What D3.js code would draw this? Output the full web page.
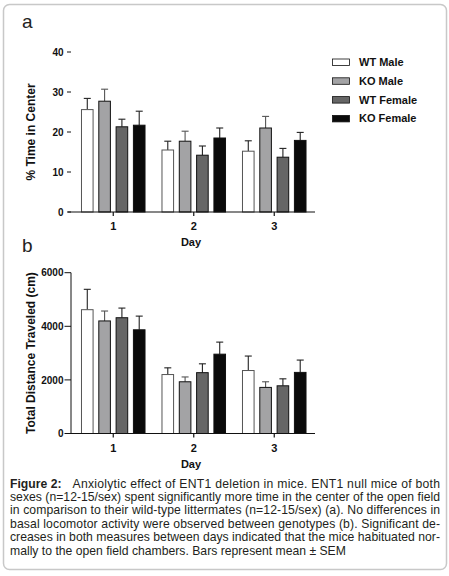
<!DOCTYPE html>
<html lang="en">
<head>
<meta charset="utf-8">
<title>Figure 2</title>
<script src="https://cdn.jsdelivr.net/npm/d3@7"></script>
<style>
  body { margin: 0; background: #fff; }
  svg { display: block; font-family: "Liberation Sans", Arial, sans-serif; }
</style>
</head>
<body>
<script>

// data
var days = ["1", "2", "3"];
var groups = ["WT Male", "KO Male", "WT Female", "KO Female"];
var groupColors = ["#ffffff", "#a3a3a5", "#666666", "#0a0a0a"];

// % time in center, mean and mean+SEM, one row per group (days 1..3)
var centerMean = [[25.6, 15.5, 15.2], [27.7, 17.7, 21.0], [21.3, 14.2, 13.7], [21.7, 18.5, 17.9]];
var centerTop  = [[28.4, 17.7, 17.8], [30.7, 20.2, 23.9], [23.2, 16.5, 15.9], [25.2, 21.0, 19.9]];
var centerTicks = [0, 10, 20, 30, 40];

// total distance traveled (cm)
var distMean = [[4620, 2200, 2350], [4200, 1930, 1720], [4320, 2270, 1780], [3870, 2960, 2280]];
var distTop  = [[5380, 2450, 2890], [4570, 2110, 1930], [4680, 2600, 2040], [4380, 3410, 2740]];
var distTicks = [0, 2000, 4000, 6000];

var captionLines = [
  "Anxiolytic effect of ENT1 deletion in mice. ENT1 null mice of both",
  "sexes (n=12-15/sex) spent significantly more time in the center of the open field",
  "in comparison to their wild-type littermates (n=12-15/sex) (a). No differences in",
  "basal locomotor activity were observed between genotypes (b). Significant de-",
  "creases in both measures between days indicated that the mice habituated nor-",
  "mally to the open field chambers.  Bars represent mean \u00b1 SEM"
];

var svg = d3.select("body").append("svg")
  .attr("width", 449)
  .attr("height", 576);

// rounded frame
svg.append("rect")
  .attr("x", 3.5).attr("y", 4.5)
  .attr("width", 443).attr("height", 565)
  .attr("rx", 6).attr("ry", 6)
  .attr("fill", "none")
  .attr("stroke", "#c8c8c8")
  .attr("stroke-width", 1.5);

var x0 = d3.scaleBand().domain(days).range([73, 314.5]);
var x1 = d3.scaleBand().domain(groups).range([0, x0.bandwidth()])
  .paddingInner(0.33).paddingOuter(0.49);

function drawPanel(opt) {
  var y = d3.scaleLinear().domain(opt.domain).range([opt.bottom, opt.top]);
  var g = svg.append("g");

  // bars
  groups.forEach(function(name, gi) {
    var rows = days.map(function(d, di) {
      return { day: d, mean: opt.mean[gi][di], top: opt.upper[gi][di] };
    });

    var bg = g.append("g");

    // error bars (upper only)
    bg.selectAll("line.stem").data(rows).enter().append("line")
      .attr("x1", function(d) { return x0(d.day) + x1(name) + x1.bandwidth() / 2; })
      .attr("x2", function(d) { return x0(d.day) + x1(name) + x1.bandwidth() / 2; })
      .attr("y1", function(d) { return y(d.mean); })
      .attr("y2", function(d) { return y(d.top); })
      .attr("stroke", gi == 1 ? "#555" : "#222")
      .attr("stroke-width", 1.1);

    bg.selectAll("line.cap").data(rows).enter().append("line")
      .attr("x1", function(d) { return x0(d.day) + x1(name) + x1.bandwidth() / 2 - 3.5; })
      .attr("x2", function(d) { return x0(d.day) + x1(name) + x1.bandwidth() / 2 + 3.5; })
      .attr("y1", function(d) { return y(d.top); })
      .attr("y2", function(d) { return y(d.top); })
      .attr("stroke", gi == 1 ? "#555" : "#222")
      .attr("stroke-width", 1.1);

    bg.selectAll("rect").data(rows).enter().append("rect")
      .attr("x", function(d) { return x0(d.day) + x1(name); })
      .attr("y", function(d) { return y(d.mean); })
      .attr("width", x1.bandwidth())
      .attr("height", function(d) { return opt.bottom - y(d.mean); })
      .attr("fill", groupColors[gi])
      .attr("stroke", gi == 0 ? "#555" : "#111")
      .attr("stroke-width", 1);
  });

  // x axis
  g.append("line")
    .attr("x1", 68).attr("x2", 315)
    .attr("y1", opt.bottom).attr("y2", opt.bottom)
    .attr("stroke", "#111").attr("stroke-width", 1.2);

  g.selectAll("line.xt").data(days).enter().append("line")
    .attr("x1", function(d) { return x0(d) + x0.bandwidth() / 2; })
    .attr("x2", function(d) { return x0(d) + x0.bandwidth() / 2; })
    .attr("y1", opt.bottom).attr("y2", opt.bottom + 4)
    .attr("stroke", "#111").attr("stroke-width", 1.2);

  g.selectAll("text.xt").data(days).enter().append("text")
    .attr("x", function(d) { return x0(d) + x0.bandwidth() / 2; })
    .attr("y", opt.bottom + 18)
    .attr("text-anchor", "middle")
    .attr("font-size", 11).attr("font-weight", "bold")
    .attr("fill", "#111")
    .text(function(d) { return d; });

  g.append("text")
    .attr("x", 191).attr("y", opt.bottom + 34)
    .attr("text-anchor", "middle")
    .attr("font-size", 11).attr("font-weight", "bold")
    .attr("fill", "#111")
    .text("Day");

  // y axis: panel a shows only ticks, panel b has the line too
  if (opt.axisLine) {
    g.append("line")
      .attr("x1", 71).attr("x2", 71)
      .attr("y1", opt.top).attr("y2", opt.bottom)
      .attr("stroke", "#111").attr("stroke-width", 1);
  }

  g.selectAll("line.yt").data(opt.ticks).enter().append("line")
    .attr("x1", opt.tickStart).attr("x2", 71)
    .attr("y1", function(d) { return y(d); })
    .attr("y2", function(d) { return y(d); })
    .attr("stroke", "#111").attr("stroke-width", 1);

  g.selectAll("text.yt").data(opt.ticks).enter().append("text")
    .attr("x", 63.5)
    .attr("y", function(d) { return y(d) + 3.6; })
    .attr("text-anchor", "end")
    .attr("font-size", 10).attr("font-weight", "bold")
    .attr("fill", "#111")
    .text(function(d) { return d; });

  g.append("text")
    .attr("transform", "translate(34.5," + ((opt.top + opt.bottom) / 2) + ") rotate(-90)")
    .attr("text-anchor", "middle")
    .attr("font-size", 12).attr("font-weight", "bold")
    .attr("fill", "#111")
    .text(opt.label);

  g.append("text")
    .attr("x", 22).attr("y", opt.letterY)
    .attr("font-size", 19)
    .attr("fill", "#222")
    .text(opt.letter);
}

drawPanel({
  mean: centerMean, upper: centerTop, ticks: centerTicks,
  domain: [0, 40], top: 52, bottom: 212,
  tickStart: 67, axisLine: false,
  label: "% Time in Center", letter: "a", letterY: 28
});

drawPanel({
  mean: distMean, upper: distTop, ticks: distTicks,
  domain: [0, 6000], top: 272.7, bottom: 433.5,
  tickStart: 64.5, axisLine: true,
  label: "Total Distance Traveled (cm)", letter: "b", letterY: 252
});

// legend
var legend = svg.append("g").selectAll("g").data(groups).enter().append("g")
  .attr("transform", function(d, i) { return "translate(332," + (62 + i * 18.8) + ")"; });

legend.append("rect")
  .attr("x", 0.5).attr("y", -3)
  .attr("width", 17).attr("height", 6.5)
  .attr("fill", function(d, i) { return groupColors[i]; })
  .attr("stroke", "#111").attr("stroke-width", 0.8);

legend.append("text")
  .attr("x", 27).attr("y", 4)
  .attr("font-size", 11).attr("font-weight", "bold")
  .attr("fill", "#111")
  .text(function(d) { return d; });

// caption, justified line by line
var cap = svg.append("g").attr("font-size", 12.2).attr("fill", "#231f20");
cap.selectAll("text").data(captionLines).enter().append("text")
  .attr("x", function(d, i) { return i == 0 ? 72.5 : 10; })
  .attr("y", function(d, i) { return 487.5 + i * 13.4; })
  .attr("textLength", function(d, i) { return i == 0 ? 367.5 : (i < 5 ? 430 : null); })
  .attr("lengthAdjust", "spacing")
  .text(function(d) { return d; });

cap.append("text")
  .attr("x", 10).attr("y", 487.5)
  .attr("font-weight", "bold")
  .text("Figure 2:");

</script>
</body>
</html>
